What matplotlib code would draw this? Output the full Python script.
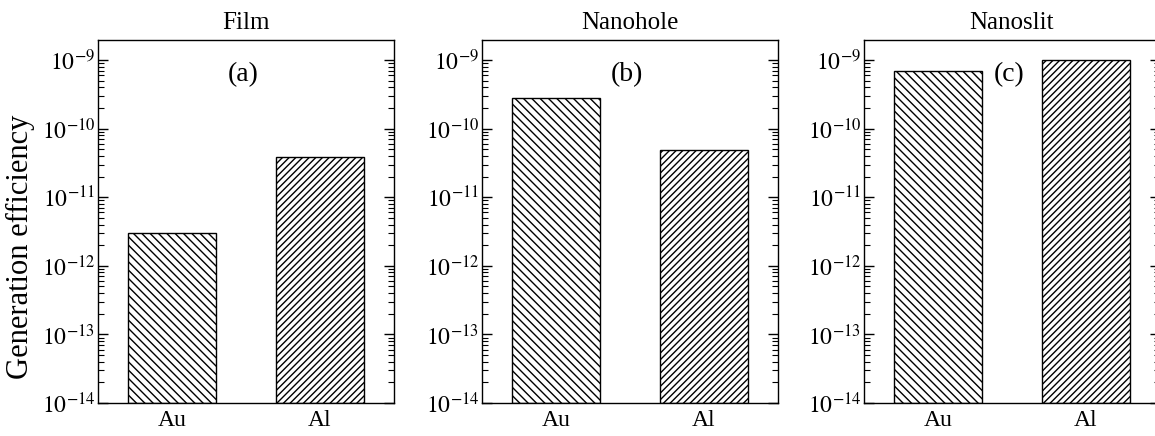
import numpy as np
from matplotlib import pyplot as plt
from matplotlib.ticker import LogLocator, NullFormatter

plt.rcParams['font.family'] = ['Liberation Serif', 'DejaVu Serif']
plt.rcParams['mathtext.fontset'] = 'stix'
plt.rcParams['hatch.linewidth'] = 1.0

metals = ['Au', 'Al']
titles = ['Film', 'Nanohole', 'Nanoslit']
tags = ['(a)', '(b)', '(c)']
film = [3.0e-12, 3.9e-11]
nanohole = [2.8e-10, 4.9e-11]
nanoslit = [6.9e-10, 1.0e-9]
hatches = ['\\\\\\\\', '/////']

fig = plt.figure(figsize=(11.55, 4.36), dpi=100)
lefts = [0.0848, 0.4173, 0.748]
axes = [fig.add_axes([l, 0.0757, 0.2563, 0.832]) for l in lefts]

for ax, vals, title, tag in zip(axes, [film, nanohole, nanoslit], titles, tags):
    x = np.arange(len(metals))
    bars = ax.bar(x, vals, width=0.6, color='white', edgecolor='black',
                  linewidth=1.0, bottom=1e-14)
    for b, h in zip(bars, hatches):
        b.set_hatch(h)
    ax.set_yscale('log')
    ax.set_ylim(1e-14, 10**-8.71)
    ax.set_xlim(-0.5, 1.5)
    ax.set_xticks(x)
    ax.set_xticklabels(metals, fontsize=17)
    ax.tick_params(axis='x', length=0, pad=5)
    ax.set_yticks([10.0**k for k in range(-14, -8)])
    ax.set_yticklabels([r'$10^{%d}$' % k for k in range(-14, -8)], fontsize=17)
    ax.yaxis.set_minor_locator(LogLocator(base=10, subs=np.arange(2, 10), numticks=20))
    ax.yaxis.set_minor_formatter(NullFormatter())
    ax.tick_params(axis='y', which='major', direction='in', length=7, width=1,
                   right=True, pad=2)
    ax.tick_params(axis='y', which='minor', direction='in', length=4, width=0.8,
                   right=True)
    for s in ax.spines.values():
        s.set_linewidth(1.0)
    ax.set_title(title, fontsize=18, pad=8)
    ax.text(0.49, 0.905, tag, transform=ax.transAxes, fontsize=20,
            ha='center', va='center')

axes[0].set_ylabel('Generation efficiency', fontsize=22)
axes[0].yaxis.set_label_coords(-0.212, 0.43)

plt.savefig('out.png', dpi=100)
